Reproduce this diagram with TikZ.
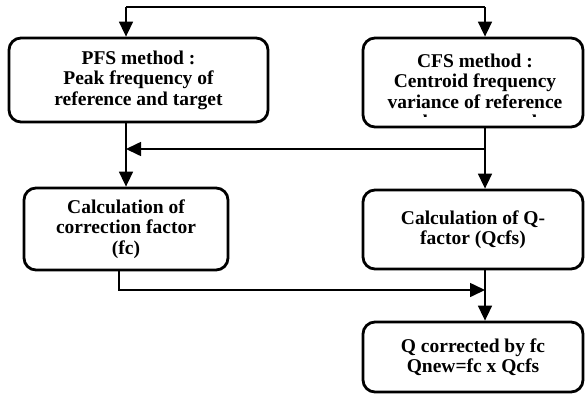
\documentclass[tikz,border=0pt]{standalone}
\usepackage{fontspec}
\setmainfont{Liberation Serif}
\usetikzlibrary{arrows.meta}
\begin{document}
\begin{tikzpicture}[x=1pt,y=-1pt,
  box/.style={draw=black, line width=2.8pt, rounded corners=12pt, fill=white,
    align=center, font=\fontsize{19.5}{20.5}\selectfont\bfseries, inner sep=0pt},
  txt/.style={align=center, font=\fontsize{19.5}{20.5}\selectfont\bfseries, inner sep=0pt},
  conn/.style={line width=1.6pt, -{Triangle[length=15pt,width=14pt]}},
  plain/.style={line width=1.6pt}]
\useasboundingbox[fill=white] (0,0) rectangle (585,397);
% boxes
\node[box, minimum width=259pt, minimum height=84pt] (pfs) at (138.5,80)
  {PFS method :\\Peak frequency of\\reference and target};
\node[box, minimum width=220pt, minimum height=89pt] (cfs) at (473,82.5) {};
\begin{scope}
  \clip (365,40) rectangle (581,116.5);
  \node[txt, anchor=north] (cfstext) at (475,53.5)
    {CFS method :\\Centroid frequency\\variance of reference\\and target samples};
\end{scope}
\node[box, minimum width=204pt, minimum height=82pt] (fc) at (126,229)
  {Calculation of\\correction factor\\(fc)};
\node[box, minimum width=220pt, minimum height=79pt] (qcfs) at (473,229.5)
  {Calculation of Q-\\factor (Qcfs)};
\node[box, minimum width=220pt, minimum height=70pt] (qnew) at (473,357)
  {Q corrected by fc\\Qnew=fc x Qcfs};
% coordinates
\coordinate (topL) at (126,7);
\coordinate (topR) at (485,7);
\coordinate (midL) at (126,149);
\coordinate (midR) at (485,149);
\coordinate (botL) at (119,290);
\coordinate (botR) at (485,290);
% connectors
\draw[plain] (topL) -- (topR);
\draw[conn] (topL) -- (pfs.north -| topL);
\draw[conn] (topR) -- (cfs.north -| topR);
\draw[conn] (cfs.south -| midR) -- (qcfs.north -| midR);
\draw[conn] (midR) -- (midL);
\draw[conn] (pfs.south -| midL) -- (fc.north -| midL);
\draw[conn] (fc.south -| botL) |- (botR);
\draw[conn] (qcfs.south -| botR) -- (qnew.north -| botR);
\end{tikzpicture}
\end{document}
